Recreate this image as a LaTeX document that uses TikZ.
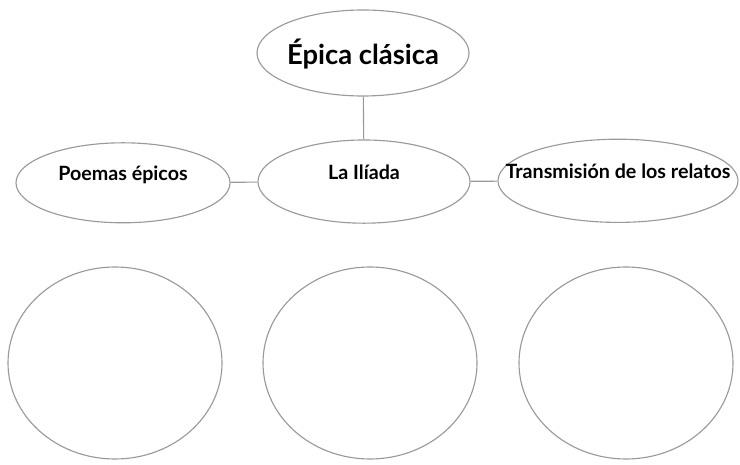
\documentclass[tikz,border=0pt]{standalone}
\usepackage{fontspec}
\setmainfont{Lato}
\usetikzlibrary{shapes.geometric}

\begin{document}
\begin{tikzpicture}[oval/.style = {draw, color = black!40, line width=0.8pt, ellipse, text = black, font=\bfseries\fontsize{14}{16}\selectfont, inner sep=-3cm, text height=0pt, text depth=2.8pt},
	bubble/.style = {draw, color = black!40, line width=0.8pt, ellipse, minimum width=5.35cm, minimum height=4.8cm},
	link/.style = {color = black!40, line width=0.8pt}]
				\useasboundingbox (0,0) rectangle (18.5,11.6);
				\node[oval, minimum width=5.3cm, minimum height=2.15cm, font=\bfseries\fontsize{19.5}{22}\selectfont, text height=17pt, text depth=0pt] (epica) at (9.075,10.275) {Épica clásica};
				\node[oval, minimum width=5.35cm, minimum height=2.0cm] (poemas) at (3.075,7.03) {Poemas épicos};
				\node[oval, minimum width=5.3cm, minimum height=2.08cm] (iliada) at (9.1,7.06) {La Ilíada};
				\node[oval, minimum width=6cm, minimum height=2.08cm] (relatos) at (15.45,7.08) {Transmisión de los relatos};
				\draw[link] (epica) -- (iliada);
				\draw[link] (poemas) -- (iliada);
				\draw[link] (iliada) -- (relatos);
				\node[bubble] (c1) at (2.875,2.525) {};
				\node[bubble] (c2) at (9.25,2.525) {};
				\node[bubble] (c3) at (15.65,2.525) {};
			\end{tikzpicture}
\end{document}
